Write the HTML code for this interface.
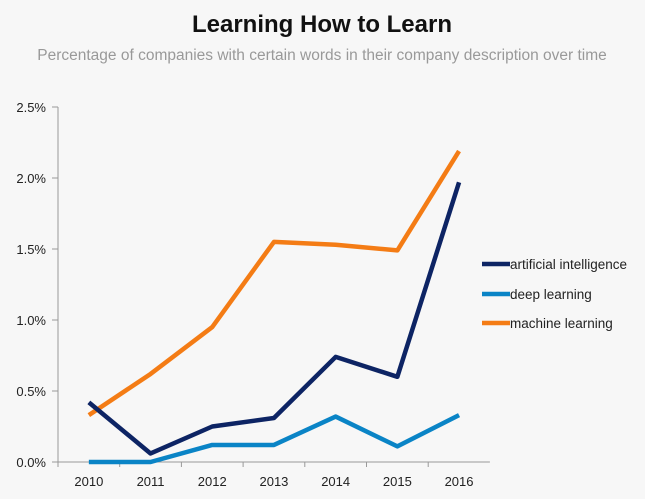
<!DOCTYPE html>
<html><head><meta charset="utf-8"><style>
body{margin:0;background:#f7f7f7;font-family:"Liberation Sans",sans-serif;}
</style></head><body>
<svg width="645" height="494" id="c" xmlns="http://www.w3.org/2000/svg">
<rect width="645" height="494" fill="#f7f7f7"/>
<text x="322" y="32" text-anchor="middle" font-size="24" font-weight="bold" fill="#111">Learning How to Learn</text>
<text x="322" y="60" text-anchor="middle" font-size="15.5" fill="#999">Percentage of companies with certain words in their company description over time</text>
<g id="g"></g>
</svg>
<script>
const years=["2010","2011","2012","2013","2014","2015","2016"];
const yTicks=[0,0.5,1,1.5,2,2.5];
const aiVals=[0.42,0.06,0.25,0.31,0.74,0.60,1.97];
const deepVals=[0,0,0.12,0.12,0.32,0.11,0.33];
const mlVals=[0.33,0.62,0.95,1.55,1.53,1.49,2.19];
const ns="http://www.w3.org/2000/svg",g=document.getElementById('g');
const x0=58,step=61.7,yB=462,yT=107;
const X=i=>x0+step*(i+0.5);
const Y=v=>yB-(v/2.5)*(yB-yT);
function el(t,a){const e=document.createElementNS(ns,t);for(const k in a)e.setAttribute(k,a[k]);g.appendChild(e);return e;}
let ax=el('line',{x1:x0,y1:yT,x2:x0,y2:yB,stroke:'#999'});

let bx=el('line',{x1:x0,y1:yB,x2:x0+step*7,y2:yB,stroke:'#999'});

yTicks.forEach(v=>{
 el('line',{x1:x0-6,y1:Y(v),x2:x0,y2:Y(v),stroke:'#999'});
 const t=el('text',{x:x0-12,y:Y(v)+5,'text-anchor':'end','font-size':13,fill:'#222'});
 t.textContent=v.toFixed(1)+'%';
 
});
years.forEach((yr,i)=>{
 el('line',{x1:x0+step*i,y1:yB,x2:x0+step*i,y2:yB+5,stroke:'#999'});
 const t=el('text',{x:X(i),y:yB+24,'text-anchor':'middle','font-size':13,fill:'#222'});
 t.textContent=yr;
 
});
const series=[["deep-learning",deepVals,"#0a84c6"],["machine-learning",mlVals,"#f47c15"],["artificial-intelligence",aiVals,"#0d2464"]];
series.forEach(([n,vals,c])=>{
 const p=el('polyline',{points:vals.map((v,i)=>X(i)+','+Y(v)).join(' '),fill:'none',stroke:c,'stroke-width':4.5,'stroke-linejoin':'round'});
 
});
const leg=[["artificial intelligence","#0d2464",264],["deep learning","#0a84c6",294],["machine learning","#f47c15",323]];
leg.forEach(([l,c,y])=>{
 const r=el('line',{x1:482,y1:y,x2:510,y2:y,stroke:c,'stroke-width':4.5});
 
 const t=el('text',{x:510,y:y+5,'font-size':13.5,fill:'#222'});t.textContent=l;
 
});
</script>
</body></html>
